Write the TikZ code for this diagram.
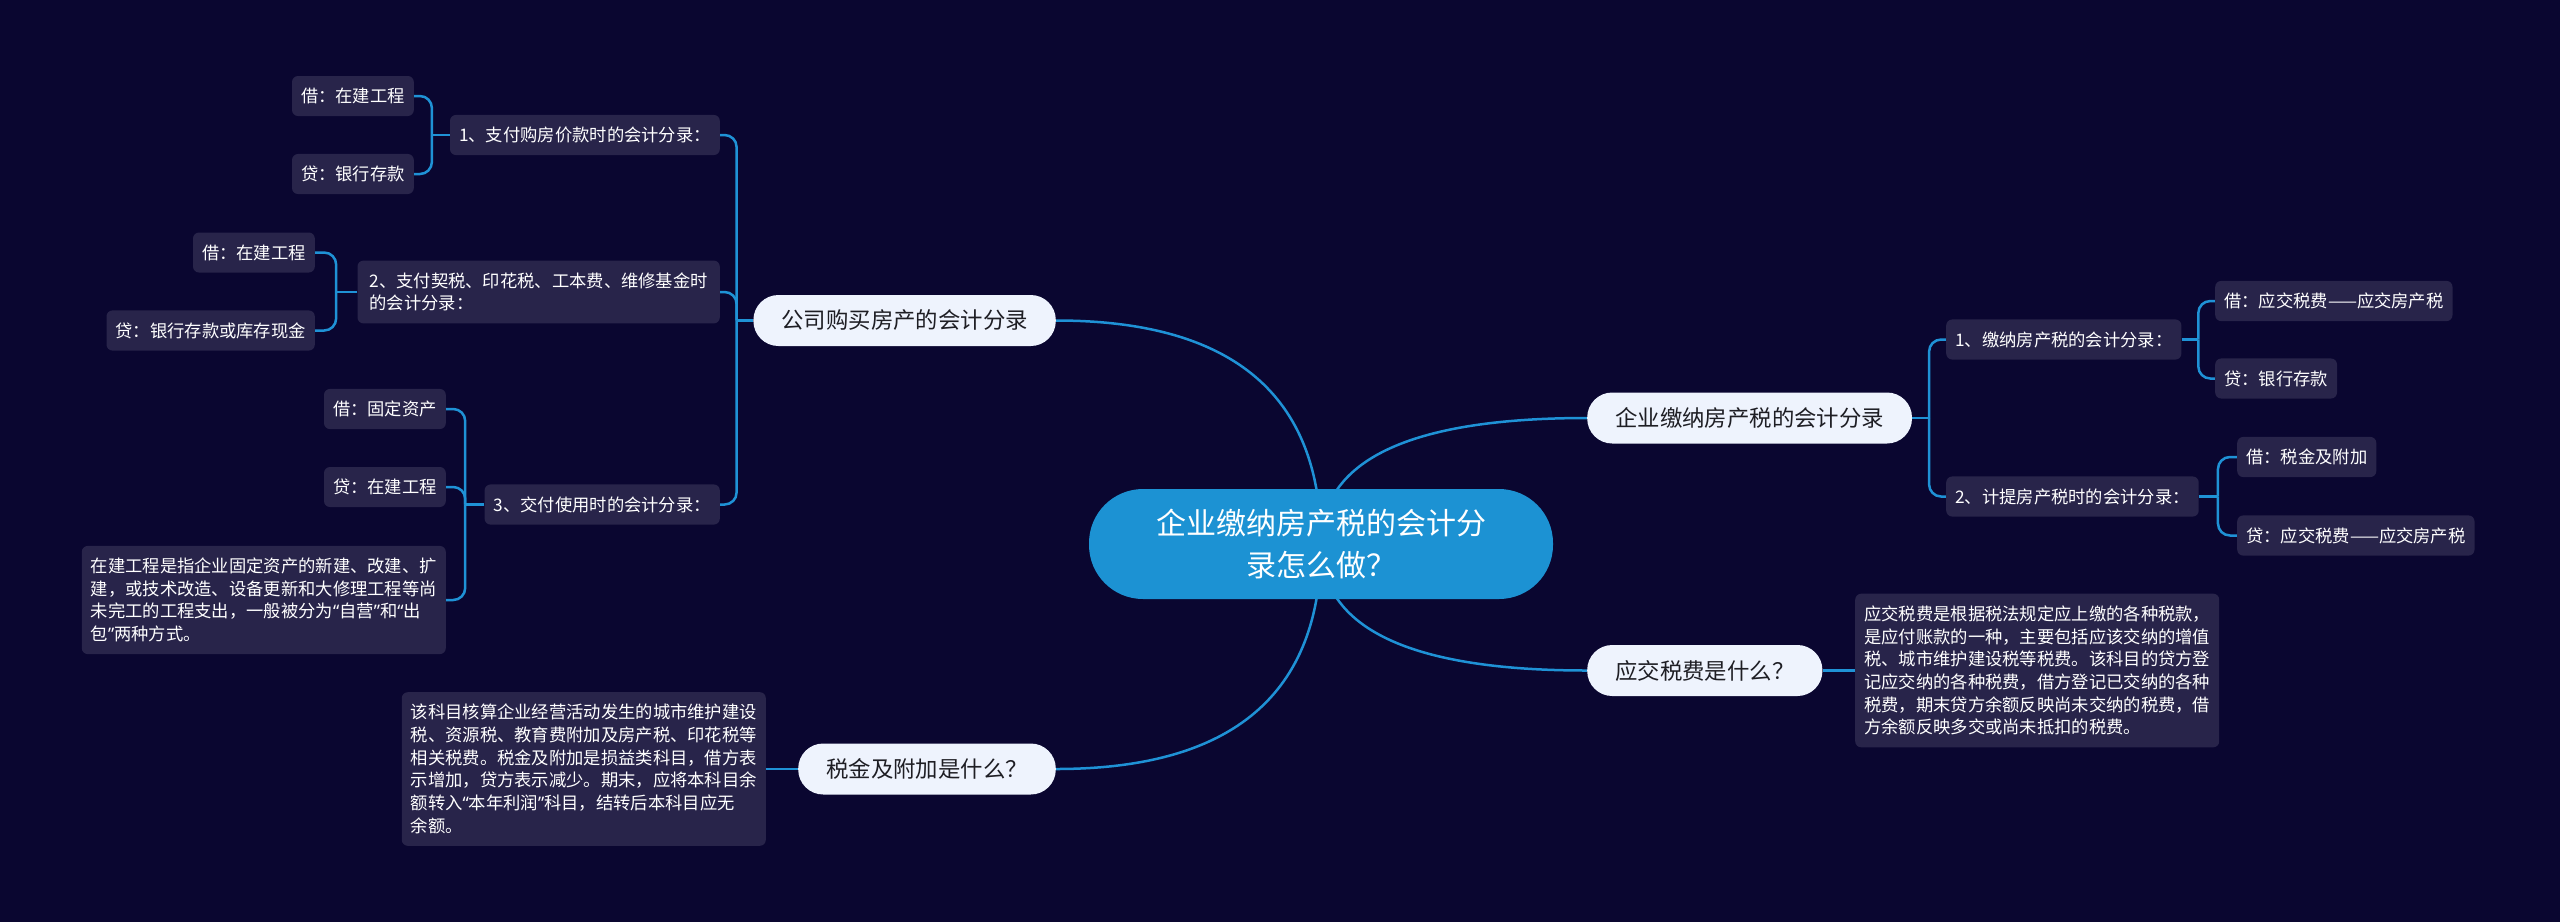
\documentclass[tikz,border=0pt]{standalone}
\usepackage{fontspec}
\newfontfamily\cjk{Noto Sans CJK SC}
\newfontfamily\westq{Noto Sans}
\usetikzlibrary{calc,backgrounds}
\definecolor{bgnavy}{HTML}{0A0630}
\definecolor{rootblue}{HTML}{1C92D3}
\definecolor{pillwhite}{HTML}{EEF3FD}
\definecolor{pilltext}{HTML}{1E1E24}
\definecolor{leafpurple}{HTML}{28244A}
\definecolor{linkblue}{HTML}{1F92D6}
\tikzset{rootbox/.style={
            fill=rootblue,
            rounded corners=54pt,
            text=white,
            font=\cjk\fontsize{30}{42}\selectfont,
            align=center,
            minimum width=464pt,
            minimum height=110pt
        },
        topicbox/.style={
            fill=pillwhite,
            rounded corners=25pt,
            text=pilltext,
            font=\cjk\fontsize{22.4}{28}\selectfont,
            inner xsep=28pt,
            minimum height=51pt
        },
        leafbox/.style={
            fill=leafpurple,
            rounded corners=6pt,
            text=white,
            font=\cjk\fontsize{17.3}{22.7}\selectfont,
            align=left,
            inner xsep=9pt,
            inner ysep=12pt,
            minimum height=40pt
        },
        link/.style={
            draw=linkblue,
            line width=2.5pt,
            rounded corners=12pt
        }
    }

\begin{document}
\begin{tikzpicture}[x=1pt,y=-1pt]
        \useasboundingbox (0,0) rectangle (2560,922);
        \node[rootbox] at (1321,544) (root) {企业缴纳房产税的会计分\\录怎么做？};
        % left side
        \node[topicbox,anchor=east] at (1056,320.5) (buy) {公司购买房产的会计分录};
        \node[leafbox,anchor=east] at (720,135) (b1) {1、支付购房价款时的会计分录：};
        \node[leafbox,anchor=east] at (414,96) (b1a) {借：在建工程};
        \node[leafbox,anchor=east] at (414,174) (b1b) {贷：银行存款};
        \node[leafbox,anchor=east,inner xsep=12pt] at (720,292) (b2) {2、支付契税、印花税、工本费、维修基金时\\的会计分录：};
        \node[leafbox,anchor=east] at (315,252.5) (b2a) {借：在建工程};
        \node[leafbox,anchor=east] at (315,330.5) (b2b) {贷：银行存款或库存现金};
        \node[leafbox,anchor=east] at (720,504.5) (b3) {3、交付使用时的会计分录：};
        \node[leafbox,anchor=east] at (446,409) (b3a) {借：固定资产};
        \node[leafbox,anchor=east] at (446,487) (b3b) {贷：在建工程};
        \node[leafbox,anchor=east] at (446,600) (b3note) {在建工程是指企业固定资产的新建、改建、扩\\建，或技术改造、设备更新和大修理工程等尚\\未完工的工程支出，一般被分为{\westq“}自营{\westq”}和{\westq“}出\\包{\westq”}两种方式。};
        \node[topicbox,anchor=east] at (1056,769) (tax) {税金及附加是什么？};
        \node[leafbox,anchor=east] at (766,769) (taxnote) {该科目核算企业经营活动发生的城市维护建设\\税、资源税、教育费附加及房产税、印花税等\\相关税费。税金及附加是损益类科目，借方表\\示增加，贷方表示减少。期末，应将本科目余\\额转入{\westq“}本年利润{\westq”}科目，结转后本科目应无\\余额。};
        % right side
        \node[topicbox,anchor=west] at (1587,418) (pay) {企业缴纳房产税的会计分录};
        \node[leafbox,anchor=west] at (1946,339.5) (p1) {1、缴纳房产税的会计分录：};
        \node[leafbox,anchor=west] at (2215,301) (p1a) {借：应交税费——应交房产税};
        \node[leafbox,anchor=west] at (2215,378.5) (p1b) {贷：银行存款};
        \node[leafbox,anchor=west] at (1946,496.5) (p2) {2、计提房产税时的会计分录：};
        \node[leafbox,anchor=west] at (2237,457) (p2a) {借：税金及附加};
        \node[leafbox,anchor=west] at (2237,535.5) (p2b) {贷：应交税费——应交房产税};
        \node[topicbox,anchor=west] at (1587,670.5) (due) {应交税费是什么？};
        \node[leafbox,anchor=west] at (1855,670.5) (duenote) {应交税费是根据税法规定应上缴的各种税款，\\是应付账款的一种，主要包括应该交纳的增值\\税、城市维护建设税等税费。该科目的贷方登\\记应交纳的各种税费，借方登记已交纳的各种\\税费，期末贷方余额反映尚未交纳的税费，借\\方余额反映多交或尚未抵扣的税费。};
        \begin{scope}[on background layer]
            \fill[bgnavy] (0,0) rectangle (2560,922);
            % root to topics
            \draw[link] (root.center) .. controls ($(root.center)!0.667!(root.center |- buy.east)$) and ($(buy.east)!0.667!(root.center |- buy.east)$) .. (buy.east);
            \draw[link] (root.center) .. controls ($(root.center)!0.667!(root.center |- tax.east)$) and ($(tax.east)!0.667!(root.center |- tax.east)$) .. (tax.east);
            \draw[link] (root.center) .. controls ($(root.center)!0.667!(root.center |- pay.west)$) and ($(pay.west)!0.667!(root.center |- pay.west)$) .. (pay.west);
            \draw[link] (root.center) .. controls ($(root.center)!0.667!(root.center |- due.west)$) and ($(due.west)!0.667!(root.center |- due.west)$) .. (due.west);
            % brackets
            \draw[link] (buy.west) -- ($(buy.west)!0.5!(b1.east |- buy.west)$) coordinate (jbuy);
            \draw[link] (jbuy) |- (b1.east);
            \draw[link] (jbuy) |- (b2.east);
            \draw[link] (jbuy) |- (b3.east);
            \draw[link] (b1.west) -- ($(b1.west)!0.5!(b1a.east |- b1.west)$) coordinate (jb1);
            \draw[link] (jb1) |- (b1a.east);
            \draw[link] (jb1) |- (b1b.east);
            \draw[link] (b2.west) -- ($(b2.west)!0.5!(b2a.east |- b2.west)$) coordinate (jb2);
            \draw[link] (jb2) |- (b2a.east);
            \draw[link] (jb2) |- (b2b.east);
            \draw[link] (b3.west) -- ($(b3.west)!0.5!(b3a.east |- b3.west)$) coordinate (jb3);
            \draw[link] (jb3) |- (b3a.east);
            \draw[link] (jb3) |- (b3b.east);
            \draw[link] (jb3) |- (b3note.east);
            \draw[link] (tax.west) -- (taxnote.east);
            \draw[link] (pay.east) -- ($(pay.east)!0.5!(p1.west |- pay.east)$) coordinate (jpay);
            \draw[link] (jpay) |- (p1.west);
            \draw[link] (jpay) |- (p2.west);
            \draw[link] (p1.east) -- ($(p1.east)!0.5!(p1a.west |- p1.east)$) coordinate (jp1);
            \draw[link] (jp1) |- (p1a.west);
            \draw[link] (jp1) |- (p1b.west);
            \draw[link] (p2.east) -- ($(p2.east)!0.5!(p2a.west |- p2.east)$) coordinate (jp2);
            \draw[link] (jp2) |- (p2a.west);
            \draw[link] (jp2) |- (p2b.west);
            \draw[link] (due.east) -- (duenote.west);
        \end{scope}
\end{tikzpicture}
\end{document}
